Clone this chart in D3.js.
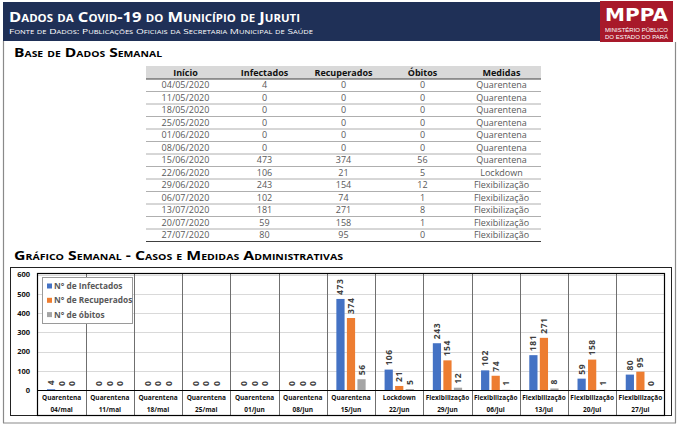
<!DOCTYPE html>
<html><head><meta charset="utf-8">
<script src="https://cdn.jsdelivr.net/npm/d3@7"></script>
<style>
html,body{margin:0;padding:0;background:#fff;}
svg{display:block;font-family:"Open Sans",sans-serif;}
.sc{font-variant:small-caps;}
</style></head>
<body>
<script>
// ---- data ----
const inicio = ["04/05/2020","11/05/2020","18/05/2020","25/05/2020","01/06/2020","08/06/2020","15/06/2020","22/06/2020","29/06/2020","06/07/2020","13/07/2020","20/07/2020","27/07/2020"];
const categorias = ["04/mai","11/mai","18/mai","25/mai","01/jun","08/jun","15/jun","22/jun","29/jun","06/jul","13/jul","20/jul","27/jul"];
const infectados = [4,0,0,0,0,0,473,106,243,102,181,59,80];
const recuperados = [0,0,0,0,0,0,374,21,154,74,271,158,95];
const obitos = [0,0,0,0,0,0,56,5,12,1,8,1,0];
const medidas = ["Quarentena","Quarentena","Quarentena","Quarentena","Quarentena","Quarentena","Quarentena","Lockdown","Flexibilização","Flexibilização","Flexibilização","Flexibilização","Flexibilização"];
const colunas = ["Início","Infectados","Recuperados","Óbitos","Medidas"];
const serieNomes = ["N° de Infectados","N° de Recuperados","N° de óbitos"];
const yTicks = [0,100,200,300,400,500,600];

const cores = ["#4472C4","#ED7D31","#A5A5A5"];
const series = [infectados, recuperados, obitos];

const W = 680, H = 427;
const svg = d3.select("body").append("svg").attr("width", W).attr("height", H);

// ---- header ----
svg.append("rect").attr("x",3).attr("y",2).attr("width",598).attr("height",39).attr("fill","#1f3057");
svg.append("text").attr("class","sc").attr("x",9).attr("y",21.5)
  .attr("fill","#fff").attr("font-size",14.5).attr("font-weight",700)
  .attr("textLength",291).attr("lengthAdjust","spacingAndGlyphs")
  .text("Dados da Covid-19 do Município de Juruti");
svg.append("text").attr("class","sc").attr("x",9).attr("y",33.5)
  .attr("fill","#fff").attr("font-size",8)
  .attr("textLength",304).attr("lengthAdjust","spacingAndGlyphs")
  .text("Fonte de Dados: Publicações Oficiais da Secretaria Municipal de Saúde");

// logo
svg.append("rect").attr("x",600).attr("y",1).attr("width",73).attr("height",41).attr("fill","#a8192a");
svg.append("text").attr("x",605).attr("y",20.5).attr("fill","#fff").attr("font-size",18)
  .attr("font-weight",900).attr("font-family","DejaVu Sans")
  .attr("textLength",63).attr("lengthAdjust","spacingAndGlyphs").text("MPPA");
svg.append("text").attr("x",605).attr("y",31.5).attr("fill","#fff").attr("font-size",5.8)
  .attr("font-family","Liberation Sans").attr("textLength",63).attr("lengthAdjust","spacingAndGlyphs").text("MINISTÉRIO PÚBLICO");
svg.append("text").attr("x",605).attr("y",38.5).attr("fill","#fff").attr("font-size",5.8)
  .attr("font-family","Liberation Sans").attr("textLength",63).attr("lengthAdjust","spacingAndGlyphs").text("DO ESTADO DO PARÁ");

// page frame
const frame = svg.append("g").attr("stroke","#8a8a8a").attr("stroke-width",1.2).attr("fill","none");
frame.append("line").attr("x1",3.5).attr("y1",41).attr("x2",3.5).attr("y2",423);
frame.append("line").attr("x1",3).attr("y1",423).attr("x2",676).attr("y2",423);
frame.append("line").attr("x1",675.5).attr("y1",42).attr("x2",675.5).attr("y2",423);

// section titles
svg.append("text").attr("class","sc").attr("x",14).attr("y",57).attr("font-size",12).attr("font-weight",700)
  .attr("fill","#000").attr("textLength",148).attr("lengthAdjust","spacingAndGlyphs").text("Base de Dados Semanal");
svg.append("text").attr("class","sc").attr("x",14).attr("y",259.5).attr("font-size",12).attr("font-weight",700)
  .attr("fill","#000").attr("textLength",329).attr("lengthAdjust","spacingAndGlyphs").text("Gráfico Semanal - Casos e Medidas Administrativas");

// ---- table ----
const tx = d3.scaleBand().domain(colunas).range([146,541]);
const rowH = 12.5, tTop = 79;
const tbl = svg.append("g");
tbl.append("rect").attr("x",146).attr("y",66).attr("width",395).attr("height",13).attr("fill","#d9d9d9");
tbl.selectAll("text.h").data(colunas).join("text").attr("class","h")
  .attr("x",d=>tx(d)+tx.bandwidth()/2).attr("y",76).attr("text-anchor","middle")
  .attr("font-size",9).attr("font-weight",700).attr("fill","#111").text(d=>d);
tbl.append("line").attr("x1",146).attr("x2",541).attr("y1",tTop).attr("y2",tTop).attr("stroke","#404040").attr("stroke-width",1.2);
const rows = inicio.map((d,i)=>[d, infectados[i], recuperados[i], obitos[i], medidas[i]]);
rows.forEach((r,i)=>{
  const y = tTop + i*rowH;
  tbl.selectAll(null).data(r).join("text")
    .attr("x",(d,j)=>tx(colunas[j])+tx.bandwidth()/2).attr("y",y+rowH/2+3.2)
    .attr("text-anchor","middle").attr("font-size",9).attr("fill","#595959").text(d=>d);
  tbl.append("line").attr("x1",146).attr("x2",541).attr("y1",y+rowH).attr("y2",y+rowH)
    .attr("stroke", i===rows.length-1 ? "#404040" : "#9a9a9a").attr("stroke-width", i===rows.length-1?1.2:0.8);
});

// ---- chart ----
const ob = {x:10.5, y:267.5, w:661, h:148};
svg.append("rect").attr("x",ob.x).attr("y",ob.y).attr("width",ob.w).attr("height",ob.h)
  .attr("fill","#fff").attr("stroke","#222").attr("stroke-width",1);
const pl = 37.5, pr = 664.5, pt = 273.5, base = 390, pb = 415.5;

const x = d3.scaleBand().domain(d3.range(categorias.length)).range([pl,pr]);
const xs = d3.scaleBand().domain([0,1,2]).range([0,x.bandwidth()]).paddingInner(0.22).paddingOuter(0.9);
const y = d3.scaleLinear().domain([0,600]).range([base,274.5]);

const g = svg.append("g");
// gridlines
g.selectAll("line.grid").data(yTicks.filter(t=>t>0)).join("line").attr("class","grid")
  .attr("x1",pl).attr("x2",pr).attr("y1",d=>Math.round(y(d))+0.5).attr("y2",d=>Math.round(y(d))+0.5)
  .attr("stroke","#d9d9d9").attr("stroke-width",1);
// y axis labels
const yAxis = d3.axisLeft(y).tickValues(yTicks).tickSize(0).tickPadding(0);
const ya = svg.append("g").attr("transform","translate(30,0)").call(yAxis);
ya.select(".domain").remove();
ya.selectAll("text").attr("font-size",7.5).attr("font-weight",700).attr("fill","#111")
  .attr("font-family","Open Sans");

// category separators
g.selectAll("line.sep").data(d3.range(1,categorias.length)).join("line").attr("class","sep")
  .attr("x1",d=>Math.round(x(d))+0.5).attr("x2",d=>Math.round(x(d))+0.5)
  .attr("y1",pt).attr("y2",pb).attr("stroke","#6f6f6f").attr("stroke-width",1);

// bars
series.forEach((s,k)=>{
  g.selectAll(null).data(s).join("rect")
    .attr("x",(d,i)=>x(i)+xs(k)).attr("width",xs.bandwidth())
    .attr("y",d=>y(d)).attr("height",d=>base-y(d)).attr("fill",cores[k]);
  g.selectAll(null).data(s).join("text")
    .attr("transform",(d,i)=>`translate(${x(i)+xs(k)+xs.bandwidth()/2+3},${y(d)-4}) rotate(-90)`)
    .attr("font-size",8.5).attr("font-weight",700).attr("fill","#404040").attr("letter-spacing",0.6)
    .text(d=>d);
});

// baseline and plot box
svg.append("line").attr("x1",pl).attr("x2",pr).attr("y1",base+0.5).attr("y2",base+0.5).attr("stroke","#000").attr("stroke-width",1.2);
svg.append("rect").attr("x",pl).attr("y",pt).attr("width",pr-pl).attr("height",pb-pt)
  .attr("fill","none").attr("stroke","#000").attr("stroke-width",1.2);

// category labels
svg.selectAll("text.m").data(medidas).join("text").attr("class","m")
  .attr("x",(d,i)=>x(i)+x.bandwidth()/2).attr("y",400).attr("text-anchor","middle")
  .attr("font-size",6.5).attr("font-weight",700).attr("fill","#111").text(d=>d);
svg.selectAll("text.c").data(categorias).join("text").attr("class","c")
  .attr("x",(d,i)=>x(i)+x.bandwidth()/2).attr("y",411.5).attr("text-anchor","middle")
  .attr("font-size",6.5).attr("font-weight",700).attr("fill","#111").text(d=>d);

// legend
const lg = svg.append("g");
lg.append("rect").attr("x",42.5).attr("y",277.5).attr("width",90).attr("height",46)
  .attr("fill","#fff").attr("stroke","#9a9a9a").attr("stroke-width",1);
serieNomes.forEach((n,k)=>{
  const cy = 286 + k*14.3;
  lg.append("rect").attr("x",47).attr("y",cy-2.5).attr("width",5).attr("height",5).attr("fill",cores[k]);
  lg.append("text").attr("x",54).attr("y",cy+3).attr("font-size",8.3).attr("font-weight",700)
    .attr("fill","#595959").text(n);
});
</script>
</body></html>
